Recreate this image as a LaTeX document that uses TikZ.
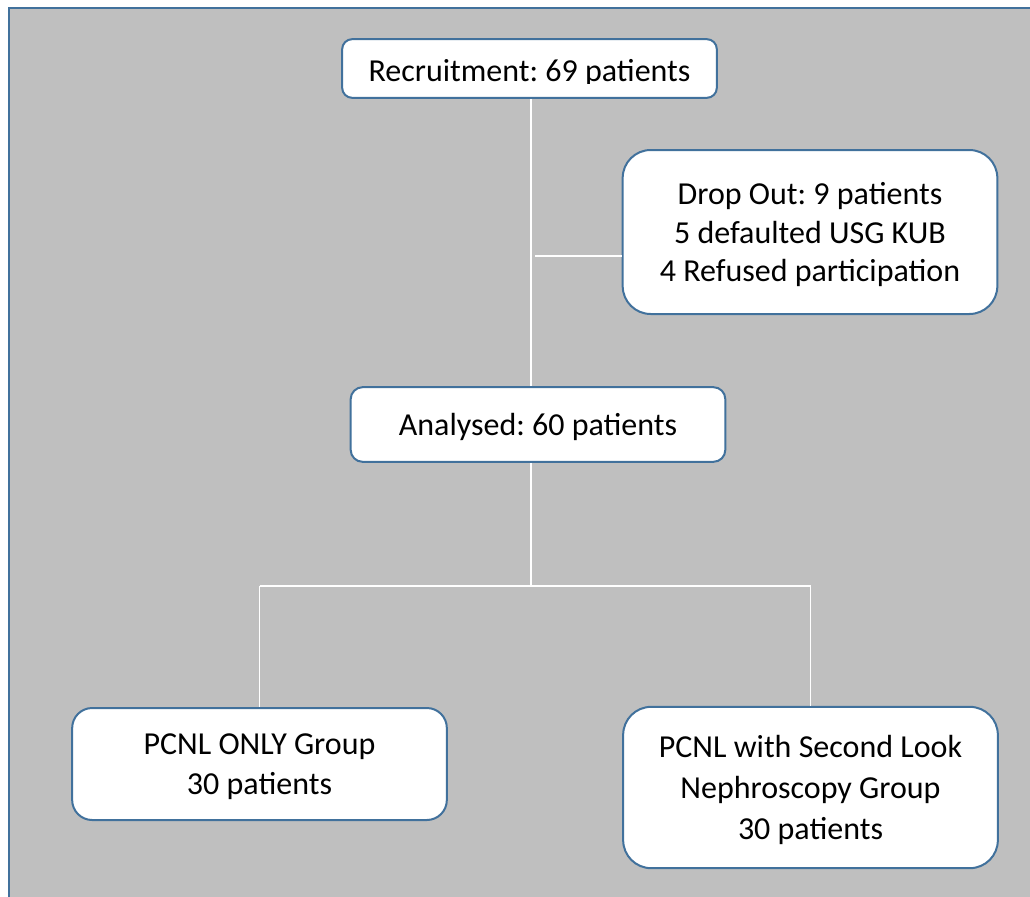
\documentclass[tikz,border=0pt]{standalone}
\usepackage{fontspec}
\setmainfont{Carlito}
\frenchspacing
\definecolor{panelgray}{RGB}{191,191,191}
\definecolor{edgeblue}{RGB}{65,113,156}
\tikzset{
  box/.style={draw=edgeblue, line width=1.5pt, fill=white, align=center,
    minimum width=281pt, inner sep=0pt, text depth=0pt},
  link/.style={draw=white, line width=1pt},
  txt/.style={font=\fontsize{24}{29}\selectfont}
}
\begin{document}
\begin{tikzpicture}[x=0.75pt,y=-0.75pt]
\useasboundingbox (0,0) rectangle (1030,896);
\fill[panelgray] (9,8) rectangle (1031,897); % the grey panel
\draw[edgeblue, line width=2pt] (9,897) -- (9,8) -- (1031,8);
% boxes, placed at pixel coordinates
\node[box, minimum height=44pt, rounded corners=7.5pt] (rec) at (529.5,68.5) {};
\node[box, txt, minimum height=123pt, rounded corners=21pt] (drop) at (810,232)
  {Drop Out: 9 patients\\5 defaulted USG KUB\\4 Refused participation};
\node[box, txt, minimum height=56pt, rounded corners=9pt] (ana) at (538,424.5)
  {Analysed: 60 patients};
\node[box, font=\fontsize{24}{30}\selectfont, minimum height=84pt, rounded corners=15pt] (grpA) at (259.5,764)
  {PCNL ONLY Group\\30 patients};
\node[box, font=\fontsize{24}{31}\selectfont, minimum height=121pt, rounded corners=21pt] (grpB) at (810.5,787.5)
  {PCNL with Second Look\\Nephroscopy Group\\30 patients};
% the first label is cut off at its lower edge
\begin{scope}
\clip (342,40) rectangle (717,83.5);
\node[txt, anchor=base, inner sep=0pt] (rectext) at (529.5,81) {Recruitment: 69 patients};
\end{scope}
% connectors
\coordinate (tap) at (535,256);
\coordinate (fork) at (531,586);
\draw[link] (rec.south -| fork) -- (ana.north -| fork);
\draw[link] (tap) -- (tap -| drop.west);
\draw[link] (ana.south -| fork) -- (fork);
\draw[link] (fork -| grpA.north) -- (fork -| grpB.north);
\foreach \g in {grpA,grpB} % edit here for the branches
\draw[link] (fork -| \g.north) -- (\g.north);
\end{tikzpicture}
\end{document}
